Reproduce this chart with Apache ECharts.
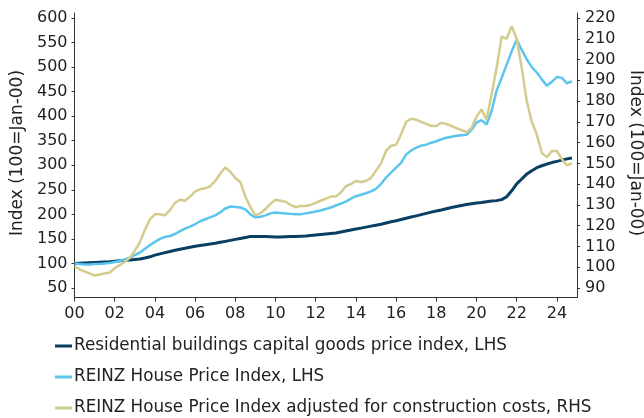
<!DOCTYPE html>
<html>
<head>
<meta charset="utf-8">
<script src="https://cdn.jsdelivr.net/npm/echarts@6/dist/echarts.min.js"></script>
<style>
  html, body { margin: 0; padding: 0; background: #fff; }
  #chart { width: 644px; height: 418px; }
</style>
</head>
<body>
<div id="chart"></div>
<script>
// quarterly readings, Q1 2000 .. Q4 2024
const capitalGoods = [
  100, 100.5, 101, 101.5, 102, 102.5, 103, 103.5, 104.5, 105.5, 106.5, 107,
  108, 109, 111, 113.5, 117, 119.5, 122, 124.5, 127, 129, 131, 133,
  135, 136.5, 138, 139.5, 141, 143, 145, 147, 149, 151, 153, 155,
  155, 155, 155, 154.5, 154, 154, 154.5, 155, 155, 155.5, 156, 157,
  158, 159, 160, 161, 162, 164, 166, 168, 170, 172, 174, 176,
  178, 180, 182.5, 185, 187, 189.5, 192, 194.5, 197, 199.5, 202, 204.5,
  207, 209, 211.5, 214, 216, 218, 220, 221.5, 223, 224, 225.5, 227,
  228, 230, 236, 248, 262, 272, 282, 289, 295, 299, 302.5, 305.5,
  308, 310.5, 313, 315
];
const housePrice = [
  100, 99, 98, 98, 99, 99, 100, 101, 103, 105, 108, 112,
  117, 122, 130, 137, 144, 150, 154, 156, 160, 166, 171, 175,
  180, 186, 190, 194, 198, 204, 212, 216, 215, 214, 210, 200,
  194, 195, 198, 202, 204, 203, 202, 201, 200, 200, 202, 204,
  206, 208, 211, 214, 218, 222, 226, 232, 237, 240, 243, 247,
  252, 262, 275, 285, 295, 305, 322, 330, 336, 340, 342, 346,
  349, 353, 356, 358, 360, 361, 362, 372, 387, 392, 383, 410,
  452, 478, 505, 532, 556, 535, 516, 500, 489, 475, 462, 470,
  480, 478, 467, 471
];
const adjustedPrice = [
  100.5, 99, 98, 97, 96, 96.5, 97, 97.5, 99.5, 101, 102.5, 104.5,
  108, 112, 118, 123, 125.5, 125.5, 125, 127.5, 131, 132.5, 132, 134,
  136.5, 137.5, 138, 139, 141.5, 145, 148, 146, 143, 141, 134, 129,
  125, 126, 128, 130.5, 132.5, 132, 131.5, 130, 129, 129.5, 129.5, 130,
  131, 132, 133, 134, 134, 136, 139, 140, 141.5, 141, 141.5, 143,
  146.5, 150, 156, 158.5, 159, 164, 170, 171.5, 171, 170, 169, 168,
  168, 169.5, 169, 168, 167, 166, 165, 167, 172.5, 176, 171, 183,
  196, 211, 210, 216, 210, 196, 180, 170, 164, 155, 153, 156,
  156, 152, 149, 150
];
const seriesNames = [
  'Residential buildings capital goods price index, LHS',
  'REINZ House Price Index, LHS',
  'REINZ House Price Index adjusted for construction costs, RHS'
];
const seriesColors = ['#083f63', '#5bc5ec', '#d3cc8e'];
const legendTops = [337, 368, 399];

const FONT = 'DejaVu Sans';
const toPairs = (arr) => arr.map((v, i) => [i / 4, v]);

const chart = echarts.init(document.getElementById('chart'), null, { renderer: 'canvas' });

const yLabel = { fontFamily: FONT, fontSize: 16, color: '#222' };
const nameStyle = { fontFamily: FONT, fontSize: 17, color: '#222' };

const option = {
  animation: false,
  backgroundColor: '#fff',
  textStyle: { fontFamily: FONT },
  grid: [
    { left: 74.5, right: 67, top: 18, bottom: 130, outerBoundsMode: 'none', containLabel: false },
    { left: 74.5, right: 67, top: 13, bottom: 120.5, outerBoundsMode: 'none', containLabel: false }
  ],
  xAxis: [
    {
      gridIndex: 0, type: 'value', min: 0, max: 25, interval: 2,
      axisLine: { show: false }, axisTick: { show: false },
      axisLabel: { show: false }, splitLine: { show: false }
    },
    {
      gridIndex: 1, type: 'value', min: 0, max: 25, interval: 2,
      axisLine: { show: true, lineStyle: { color: '#333', width: 1 } },
      axisTick: { show: true, length: 4, lineStyle: { color: '#333' } },
      splitLine: { show: false },
      axisLabel: {
        margin: 8, fontFamily: FONT, fontSize: 16, color: '#222',
        showMaxLabel: false,
        formatter: (v) => (v <= 24 && v % 2 === 0 ? String(v).padStart(2, '0') : '')
      }
    }
  ],
  yAxis: [
    {
      gridIndex: 0, type: 'value', position: 'left', min: 50, max: 600, interval: 50,
      name: 'Index (100=Jan-00)', nameLocation: 'middle', nameGap: 46, nameRotate: 90,
      nameTextStyle: nameStyle,
      axisLine: { show: false },
      axisTick: { show: true, length: 3, lineStyle: { color: '#333' } },
      splitLine: { show: false },
      axisLabel: Object.assign({ margin: 7 }, yLabel)
    },
    {
      gridIndex: 0, type: 'value', position: 'right', min: 90, max: 220, interval: 10,
      name: 'Index (100=Jan-00)', nameLocation: 'middle', nameGap: 48, nameRotate: -90,
      nameTextStyle: nameStyle,
      axisLine: { show: false },
      axisTick: { show: true, length: 3, lineStyle: { color: '#333' } },
      splitLine: { show: false },
      axisLabel: Object.assign({ margin: 8 }, yLabel)
    },
    {
      gridIndex: 1, type: 'value', position: 'left', min: 0, max: 1,
      axisLine: { show: true, lineStyle: { color: '#333', width: 1 } },
      axisTick: { show: false }, axisLabel: { show: false }, splitLine: { show: false }
    },
    {
      gridIndex: 1, type: 'value', position: 'right', min: 0, max: 1,
      axisLine: { show: true, lineStyle: { color: '#333', width: 1 } },
      axisTick: { show: false }, axisLabel: { show: false }, splitLine: { show: false }
    }
  ],
  legend: seriesNames.map((name, i) => ({
    orient: 'vertical',
    left: 55,
    top: legendTops[i],
    padding: 0,
    itemWidth: 17,
    itemHeight: 3,
    icon: 'rect',
    textStyle: { fontFamily: FONT, fontSize: 16.8, color: '#222', lineHeight: 18, padding: [0, 0, 0, -3] },
    data: [name]
  })),
  series: [
    {
      name: seriesNames[0], type: 'line', xAxisIndex: 0, yAxisIndex: 0,
      data: toPairs(capitalGoods), showSymbol: false, symbol: 'none',
      lineStyle: { color: seriesColors[0], width: 3 }, itemStyle: { color: seriesColors[0] }
    },
    {
      name: seriesNames[1], type: 'line', xAxisIndex: 0, yAxisIndex: 0,
      data: toPairs(housePrice), showSymbol: false, symbol: 'none',
      lineStyle: { color: seriesColors[1], width: 2.5 }, itemStyle: { color: seriesColors[1] }
    },
    {
      name: seriesNames[2], type: 'line', xAxisIndex: 0, yAxisIndex: 1,
      data: toPairs(adjustedPrice), showSymbol: false, symbol: 'none',
      lineStyle: { color: seriesColors[2], width: 2.5 }, itemStyle: { color: seriesColors[2] }
    }
  ]
};

chart.setOption(option);
</script>
</body>
</html>
